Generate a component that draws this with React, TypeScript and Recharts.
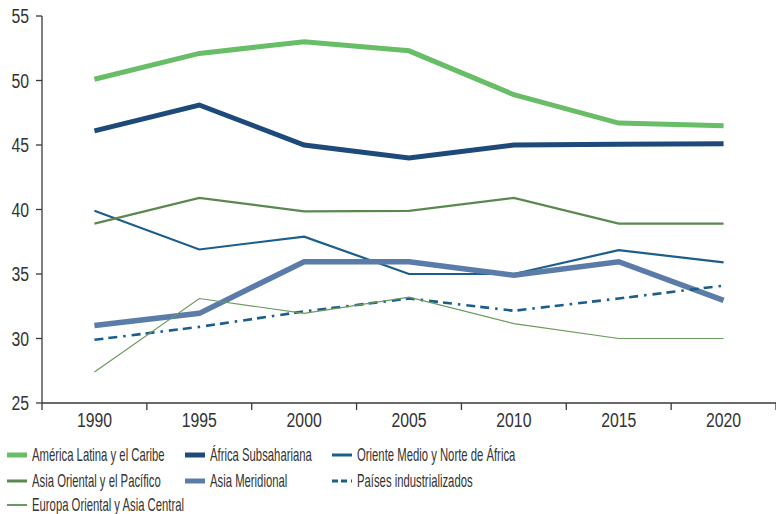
import React from "react";
import { LineChart, Line, XAxis, YAxis } from "recharts";

const years = [1990, 1995, 2000, 2005, 2010, 2015, 2020];

// values
const americaLatina = [50.1, 52.1, 53.0, 52.3, 48.9, 46.7, 46.5];
const africaSub = [46.1, 48.1, 45.0, 44.0, 45.0, 45.05, 45.1];
const orienteMedio = [39.9, 36.9, 37.9, 35.0, 35.0, 36.85, 35.9];
const asiaOriental = [38.9, 40.9, 39.85, 39.9, 40.9, 38.9, 38.9];
const asiaMeridional = [31.0, 31.95, 35.95, 35.95, 34.9, 35.95, 32.95];
const industrializados = [29.9, 30.9, 32.1, 33.1, 32.15, 33.1, 34.1];
const europaOriental = [27.4, 33.1, 31.95, 33.2, 31.15, 30.0, 30.0];

const yTicks = [25, 30, 35, 40, 45, 50, 55];
const xBoundaries = [1987.5, 1992.5, 1997.5, 2002.5, 2007.5, 2012.5, 2017.5, 2022.5];

const FONT = "'Liberation Sans', Arial, sans-serif";
const TEXT = "#333333";
const AXIS = "#3a3a3a";

const series = [
  { key: "al", name: "América Latina y el Caribe", values: americaLatina, color: "#68bd67", width: 5, legendW: 5, dash: undefined },
  { key: "as", name: "África Subsahariana", values: africaSub, color: "#1d4a7a", width: 5, legendW: 5, dash: undefined },
  { key: "om", name: "Oriente Medio y Norte de África", values: orienteMedio, color: "#1b5e8c", width: 2.2, legendW: 3, dash: undefined },
  { key: "ao", name: "Asia Oriental y el Pacífico", values: asiaOriental, color: "#5a8850", width: 2.2, legendW: 3, dash: undefined },
  { key: "am", name: "Asia Meridional", values: asiaMeridional, color: "#5b7ca8", width: 5.5, legendW: 5, dash: undefined },
  { key: "pi", name: "Países industrializados", values: industrializados, color: "#1b5e8c", width: 2.6, legendW: 3, dash: "9 5 9 6 2.5 6" },
  { key: "eo", name: "Europa Oriental y Asia Central", values: europaOriental, color: "#6a9a5e", width: 1.2, legendW: 2, dash: undefined },
];

const data = years.map((year, i) => {
  const row: Record<string, number> = { year };
  series.forEach((s) => {
    row[s.key] = s.values[i];
  });
  return row;
});

const xTicks = [...xBoundaries, ...years].sort((a, b) => a - b);

// boundaries get a tick mark, years get a label
const XTick = (props: any) => {
  const { x, y, payload } = props;
  const v = payload.value;
  if (years.indexOf(v) === -1) {
    return <line x1={x} x2={x} y1={y - 9} y2={y - 2} stroke={AXIS} strokeWidth={1.3} />;
  }
  return (
    <text
      transform={`translate(${x},${y + 15}) scale(0.81,1)`}
      textAnchor="middle"
      fill={TEXT}
      fontSize={19.5}
      fontFamily={FONT}
    >
      {v}
    </text>
  );
};

const YTick = (props: any) => {
  const { x, y, payload } = props;
  return (
    <text
      transform={`translate(${x},${y + 7}) scale(0.81,1)`}
      textAnchor="end"
      fill={TEXT}
      fontSize={19.5}
      fontFamily={FONT}
    >
      {payload.value}
    </text>
  );
};

const legendCols = [7, 185, 332];
const legendRows = [455, 481, 505];

export default function App() {
  return (
    <div style={{ position: "absolute", left: 0, top: 0, width: 776, height: 514, background: "#fff", overflow: "hidden" }}>
      <LineChart width={776} height={440} data={data} margin={{ top: 16, right: 0, left: 0, bottom: 7 }}>
        <XAxis
          dataKey="year"
          type="number"
          domain={[1987.5, 2022.5]}
          ticks={xTicks}
          interval={0}
          tick={<XTick />}
          tickSize={7}
          tickLine={{ stroke: "transparent" }}
          axisLine={{ stroke: AXIS, strokeWidth: 1.3 }}
          height={30}
        />
        <YAxis
          domain={[25, 55]}
          ticks={yTicks}
          interval={0}
          width={42}
          tickSize={6}
          tickMargin={7}
          tickLine={{ stroke: AXIS, strokeWidth: 1.3 }}
          axisLine={{ stroke: AXIS, strokeWidth: 1.3 }}
          tick={<YTick />}
        />
        {series.map((s) => (
          <Line
            key={s.key}
            dataKey={s.key}
            name={s.name}
            type="linear"
            stroke={s.color}
            strokeWidth={s.width}
            strokeDasharray={s.dash}
            dot={false}
            activeDot={false}
            isAnimationActive={false}
          />
        ))}
      </LineChart>

      {/* Legend */}
      {series.map((s, i) => (
        <div
          key={s.key}
          style={{
            position: "absolute",
            left: legendCols[i % 3],
            top: legendRows[Math.floor(i / 3)] - 10,
            height: 20,
            lineHeight: "20px",
            display: "flex",
            alignItems: "center",
            whiteSpace: "nowrap",
            fontFamily: FONT,
            fontSize: 19,
            color: TEXT,
          }}
        >
          <svg width={20} height={10} style={{ marginRight: 5, flexShrink: 0 }}>
            <line
              x1={0}
              x2={20}
              y1={5}
              y2={5}
              stroke={s.color}
              strokeWidth={s.legendW}
              strokeDasharray={s.dash ? "6 3 6 4 2 3" : undefined}
            />
          </svg>
          <span style={{ display: "inline-block", transform: "scaleX(0.595)", transformOrigin: "left center" }}>
            {s.name}
          </span>
        </div>
      ))}
    </div>
  );
}
